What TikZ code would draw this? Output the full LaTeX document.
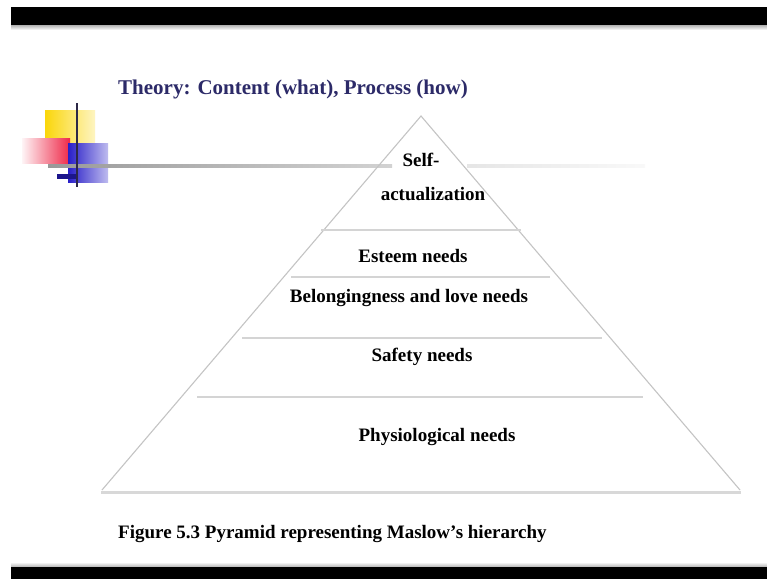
\documentclass[tikz,border=0pt]{standalone}
\usepackage{fontspec}
\setmainfont{Liberation Serif}
\usepackage{xcolor}
\definecolor{titlenavy}{RGB}{44,42,104}
\definecolor{sidegrey}{RGB}{196,196,196}
\definecolor{tiergrey}{RGB}{212,212,212}
\definecolor{basegrey}{RGB}{216,216,216}
\definecolor{logoyellow}{RGB}{250,214,10}
\definecolor{logored}{RGB}{238,40,72}
\definecolor{logoblue}{RGB}{40,30,200}
\definecolor{logodark}{RGB}{44,40,70}
\tikzset{
  tierlabel/.style={
    anchor=base,
    inner sep=0pt,
    font=\fontsize{19}{21}\selectfont\bfseries
  },
  titletext/.style={
    anchor=base west,
    inner sep=0pt,
    text=titlenavy,
    font=\fontsize{21}{23}\selectfont\bfseries
  },
  captiontext/.style={
    anchor=base west,
    inner sep=0pt,
    font=\fontsize{19}{21}\selectfont\bfseries
  },
  pyrside/.style={draw=sidegrey, line width=1.1pt},
  tierline/.style={draw=tiergrey, line width=2pt},
  baseline/.style={draw=basegrey, line width=3pt},
  blackbar/.style={fill=black, draw=none},
}

\begin{document}
\begin{tikzpicture}[x=1pt, y=-1pt]

\useasboundingbox (0,0) rectangle (767,579);
\fill[white] (0,0) rectangle (767,579);

% Slide bars
\fill[blackbar] (11,7) rectangle (767,25);
\shade[top color=gray!60, bottom color=white] (11,25) rectangle (767,30);
\shade[top color=white, bottom color=gray!60] (11,562) rectangle (767,567);
\fill[blackbar] (11,567) rectangle (767,579);

% Logo and rule
\shade[left color=logoyellow, right color=logoyellow!25] (45,110) rectangle (95,145);
\shade[left color=logored!5, right color=logored] (22,138) rectangle (70,163);
\shade[left color=logoblue, right color=logoblue!30] (68,143) rectangle (108,182);
\fill[logoblue!70!black] (57,174) rectangle (77,179);
\shade[left color=gray!80, right color=gray!35] (48,164.5) rectangle (392,167.5);
\shade[left color=gray!20, right color=gray!5] (467,164) rectangle (645,167);
\draw[logodark, line width=1.6pt] (77,103) -- (77,187);

% Title
\node[titletext] (title) at (118,94) {Theory: Content (what), Process (how)};

% Pyramid outline
\coordinate (apex) at (421,116);
\coordinate (baseL) at (102,490);
\coordinate (baseR) at (740,490);
\draw[pyrside] (baseL) -- (apex) -- (baseR);
\draw[baseline] (101,492) -- (741,492);

% Tier separators
\draw[tierline] (321,230) -- (521,230);
\draw[tierline] (291,277) -- (550,277);
\draw[tierline] (242,338) -- (602,338);
\draw[tierline] (197,397) -- (643,397);

% Tier labels
\node[tierlabel] (selfa) at (421,166) {Self-};
\node[tierlabel] (selfb) at (433,200) {actualization};
\node[tierlabel] (esteem) at (413,262) {Esteem needs};
\node[tierlabel] (belong) at (409,302) {Belongingness and love needs};
\node[tierlabel] (safety) at (422,361) {Safety needs};
\node[tierlabel] (physio) at (437,441) {Physiological needs};

% Caption
\node[captiontext] (caption) at (118,538) {Figure 5.3 Pyramid representing Maslow's hierarchy};

\end{tikzpicture}
\end{document}
